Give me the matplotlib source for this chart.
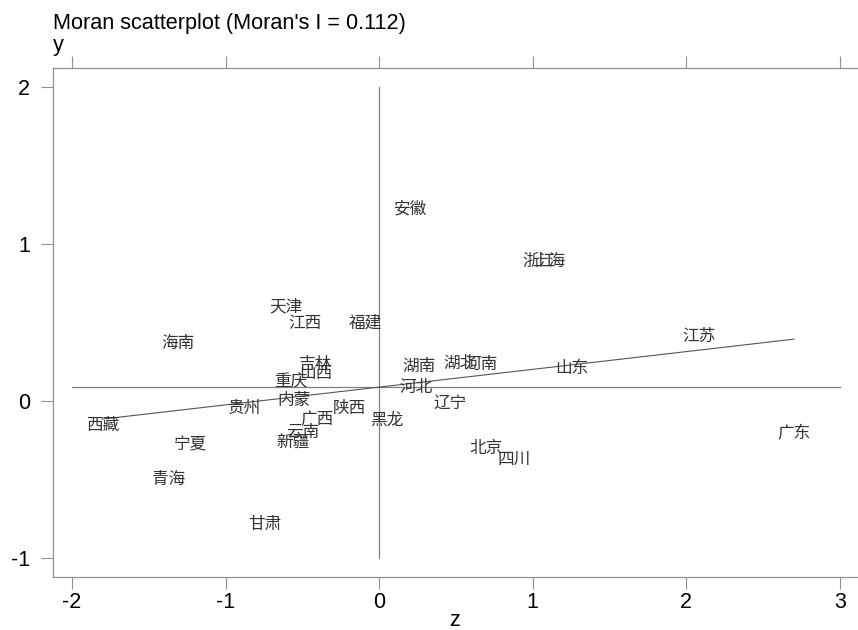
import numpy as np
import matplotlib
matplotlib.use("Agg")
import matplotlib.pyplot as plt

plt.rcParams['font.family'] = ['Liberation Sans', 'DejaVu Sans']

# province labels, standardized z and spatial lag Wz
names = ['安徽', '浙江', '上海', '天津', '江西', '福建', '海南', '吉林', '山西', '重庆',
         '内蒙', '贵州', '陕西', '广西', '云南', '新疆', '西藏', '宁夏', '青海', '甘肃',
         '黑龙', '湖南', '湖北', '河南', '河北', '辽宁', '北京', '四川', '山东', '江苏', '广东']
z = [0.202, 1.042, 1.107, -0.605, -0.482, -0.091, -1.309, -0.417, -0.410, -0.573,
     -0.553, -0.879, -0.195, -0.404, -0.495, -0.560, -1.803, -1.230, -1.374, -0.742,
     0.052, 0.260, 0.527, 0.664, 0.241, 0.462, 0.697, 0.879, 1.257, 2.083, 2.702]
wz = [1.203, 0.865, 0.865, 0.578, 0.470, 0.477, 0.343, 0.209, 0.152, 0.107,
      -0.020, -0.071, -0.071, -0.141, -0.224, -0.294, -0.179, -0.301, -0.523, -0.810,
      -0.148, 0.196, 0.215, 0.209, 0.063, -0.039, -0.326, -0.396, 0.184, 0.387, -0.230]

z = np.array(z)
wz = np.array(wz)

fig = plt.figure(figsize=(8.58, 6.30), dpi=100)
ax = fig.add_axes([53 / 858, 53 / 630, 1 - 53 / 858, 509 / 630])

ax.set_xlim(-2.124, 3.118)
ax.set_ylim(-1.121, 2.121)

# reference lines at mean z and mean Wz
ax.plot([0, 0], [-1, 2], color='#808080', lw=0.9)
ax.plot([-2, 3], [wz.mean(), wz.mean()], color='#808080', lw=0.9)

# fitted line over the range of z
slope, icpt = np.polyfit(z, wz, 1)
xs = np.array([z.min(), z.max()])
ax.plot(xs, icpt + slope * xs, color='#555555', lw=0.8)

for name, xv, yv in zip(names, z, wz):
    ax.annotate(name, (xv, yv), xytext=(0, 2.5), textcoords='offset points',
                ha='center', va='center', fontsize=12, color='#333333',
                family=['Noto Sans CJK SC', 'DejaVu Sans'])

ax.set_xticks([-2, -1, 0, 1, 2, 3])
ax.set_yticks([-1, 0, 1, 2])
ax.set_xticklabels(['-2', '-1', '0', '1', '2', '3'])
ax.set_yticklabels(['-1', '0', '1', '2'])
ax.tick_params(axis='both', direction='out', length=8.6, width=0.8, color='#909090',
               labelsize=15.5, labelcolor='black')
ax.tick_params(axis='x', pad=2, top=True, labeltop=False)
ax.tick_params(axis='y', pad=8)

for side in ['left', 'bottom', 'top']:
    ax.spines[side].set_color('#909090')
    ax.spines[side].set_linewidth(0.9)
ax.spines['right'].set_visible(False)

fig.text(53 / 858, 1 - 29.5 / 630, "Moran scatterplot (Moran's I = 0.112)",
         fontsize=15.6, ha='left', va='baseline')
fig.text(53 / 858, 1 - 51 / 630, 'y', fontsize=15.6, ha='left', va='baseline')
fig.text(455 / 858, 1 - 626 / 630, 'z', fontsize=15.6, ha='center', va='baseline')

fig.savefig('out.png', dpi=100)
